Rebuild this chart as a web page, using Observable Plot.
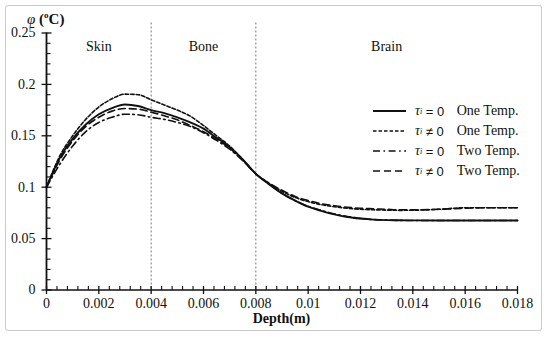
<!DOCTYPE html>
<html><head><meta charset="utf-8">
<script src="https://cdn.jsdelivr.net/npm/d3@7"></script>
<script src="https://cdn.jsdelivr.net/npm/@observablehq/plot@0.6"></script>
<style>
body{margin:0;background:#fff;}
#wrap{position:relative;width:550px;height:341px;font-family:"Liberation Serif","Times New Roman",serif;color:#111;overflow:hidden;}
#frame{position:absolute;left:5px;top:5px;width:537px;height:326px;border:1px solid #c9c9c9;border-radius:3px;box-sizing:border-box;}
#chart{position:absolute;left:0;top:0;}
#ylab{position:absolute;left:27px;top:10px;font-size:15px;white-space:nowrap;}
#ylab .phi{font-style:italic;}
#ylab .u{font-weight:bold;}
#ylab sup{font-size:9px;vertical-align:6px;}
#xlab{position:absolute;left:0;width:563px;top:311px;text-align:center;font-weight:bold;font-size:14px;}
#legend{position:absolute;left:372px;top:101px;font-size:14px;}
#legend .row{height:20px;display:flex;align-items:center;white-space:nowrap;}
#legend svg{margin-right:9px;}
#legend .tau{font-style:italic;}
#legend .eq{font-family:"Liberation Sans",Arial,sans-serif;font-size:13px;display:inline-block;width:31px;}
#legend sub{font-size:8px;font-style:italic;}
</style></head>
<body>
<div id="wrap">
  <div id="frame"></div>
  <div id="chart"></div>
  <div id="ylab"><span class="phi">φ</span> <span class="u">(<sup>o</sup>C)</span></div>
  <div id="xlab">Depth(m)</div>
  <div id="legend"></div>
</div>
<script>
// ---- data ----
const depth = [0, 0.0005, 0.001, 0.0015, 0.002, 0.0025, 0.003, 0.0035, 0.004, 0.0045, 0.005, 0.0055, 0.006, 0.0065, 0.007, 0.0075, 0.008, 0.0085, 0.009, 0.0095, 0.01, 0.0105, 0.011, 0.0115, 0.012, 0.0125, 0.013, 0.0135, 0.014, 0.015, 0.016, 0.017, 0.018];
const oneTempTau0 =    [0.100, 0.128, 0.147, 0.161, 0.171, 0.177, 0.1805, 0.179, 0.175, 0.172, 0.168, 0.163, 0.157, 0.148, 0.139, 0.127, 0.113, 0.103, 0.094, 0.087, 0.081, 0.077, 0.0735, 0.071, 0.0695, 0.0685, 0.068, 0.0678, 0.0677, 0.0676, 0.0676, 0.0676, 0.0676];
const oneTempTauNZ =   [0.100, 0.130, 0.150, 0.166, 0.178, 0.186, 0.1905, 0.190, 0.185, 0.180, 0.175, 0.169, 0.160, 0.150, 0.140, 0.127, 0.113, 0.104, 0.096, 0.090, 0.086, 0.083, 0.081, 0.0795, 0.0785, 0.078, 0.0777, 0.0775, 0.0776, 0.0785, 0.080, 0.080, 0.080];
const twoTempTau0 =    [0.100, 0.122, 0.140, 0.154, 0.163, 0.168, 0.171, 0.1705, 0.168, 0.166, 0.163, 0.159, 0.153, 0.1455, 0.137, 0.126, 0.113, 0.103, 0.094, 0.087, 0.0815, 0.0775, 0.074, 0.0715, 0.0695, 0.0685, 0.068, 0.0677, 0.0676, 0.0676, 0.0676, 0.0676, 0.0676];
const twoTempTauNZ =   [0.100, 0.126, 0.145, 0.159, 0.168, 0.174, 0.1765, 0.176, 0.173, 0.1695, 0.1655, 0.160, 0.154, 0.1465, 0.138, 0.126, 0.113, 0.104, 0.097, 0.091, 0.087, 0.084, 0.082, 0.0805, 0.0795, 0.079, 0.0785, 0.078, 0.078, 0.0785, 0.0795, 0.080, 0.080];

const seriesNames = ["One Temp.", "One Temp.", "Two Temp.", "Two Temp."];
const seriesTau = ["= 0", "≠ 0", "= 0", "≠ 0"];
const seriesValues = [oneTempTau0, oneTempTauNZ, twoTempTau0, twoTempTauNZ];

const regionNames = ["Skin", "Bone", "Brain"];
const regionBounds = [0, 0.004, 0.008, 0.018];

const xTicks = [0, 0.002, 0.004, 0.006, 0.008, 0.01, 0.012, 0.014, 0.016, 0.018];
const xTickLabels = ["0", "0.002", "0.004", "0.006", "0.008", "0.01", "0.012", "0.014", "0.016", "0.018"];
const yTicks = [0, 0.05, 0.1, 0.15, 0.2, 0.25];
const yTickLabels = ["0", "0.05", "0.1", "0.15", "0.2", "0.25"];

// ---- styles ----
const seriesStyles = [
  {strokeWidth: 1.9, dash: null},
  {strokeWidth: 1.6, dash: "3.5,2"},
  {strokeWidth: 1.6, dash: "7,3.5,1.6,3.5"},
  {strokeWidth: 1.6, dash: "7,4"}
];

const seriesData = seriesValues.map((vals, k) => depth.map((x, i) => ({x, y: vals[i], k})));
const regions = regionNames.map((name, i) => ({name, mid: (regionBounds[i] + regionBounds[i + 1]) / 2}));
const boundaries = regionBounds.slice(1, -1);

const xMinor = d3.range(0, 0.01801, 0.0004).filter(v => !xTicks.some(t => Math.abs(t - v) < 1e-9));
const yMinor = d3.range(0, 0.2501, 0.01).filter(v => !yTicks.some(t => Math.abs(t - v) < 1e-9));

const xLab = new Map(xTicks.map((t, i) => [t, xTickLabels[i]]));
const yLab = new Map(yTicks.map((t, i) => [t, yTickLabels[i]]));

const symX = {draw(c){ c.moveTo(0, -4); c.lineTo(0, 4); }};
const symXMinor = {draw(c){ c.moveTo(0, 0); c.lineTo(0, -4); }};
const symY = {draw(c){ c.moveTo(-5, 0); c.lineTo(5, 0); }};
const symYMinor = {draw(c){ c.moveTo(0, 0); c.lineTo(4, 0); }};

const lineMarks = seriesData.map((d, k) => Plot.line(d, {
  x: "x", y: "y", curve: "monotone-x", stroke: "#111",
  strokeWidth: seriesStyles[k].strokeWidth,
  strokeDasharray: seriesStyles[k].dash
}));

const chart = Plot.plot({
  width: 550, height: 341,
  marginLeft: 46, marginRight: 33, marginTop: 32.5, marginBottom: 51.5,
  x: {domain: [0, 0.018]},
  y: {domain: [0, 0.25]},
  style: {fontFamily: "'Liberation Serif','Times New Roman',serif", fontSize: "14px", color: "#111", background: "transparent", overflow: "visible"},
  marks: [
    Plot.ruleX(boundaries, {stroke: "#777", strokeDasharray: "2,2", strokeWidth: 1, insetTop: -10}),
    Plot.text(regions, {x: "mid", frameAnchor: "top", dy: 8, text: "name", fontSize: 14, fill: "#111"}),
    ...lineMarks,
    Plot.ruleY([0], {stroke: "#111", strokeWidth: 1.5}),
    Plot.ruleX([0], {stroke: "#111", strokeWidth: 1.8}),
    Plot.dot(xTicks, {x: d => d, y: 0, symbol: symX, stroke: "#111", fill: "none", strokeWidth: 1.3}),
    Plot.dot(xMinor, {x: d => d, y: 0, symbol: symXMinor, stroke: "#111", fill: "none", strokeWidth: 1.1}),
    Plot.dot(yTicks, {x: 0, y: d => d, symbol: symY, stroke: "#111", fill: "none", strokeWidth: 1.3}),
    Plot.dot(yMinor, {x: 0, y: d => d, symbol: symYMinor, stroke: "#111", fill: "none", strokeWidth: 1.1}),
    Plot.axisX(xTicks, {tickSize: 0, tickPadding: 8, tickFormat: d => xLab.get(d), label: null, fontSize: 14}),
    Plot.axisY(yTicks, {tickSize: 0, tickPadding: 11, tickFormat: d => yLab.get(d), label: null, fontSize: 14})
  ]
});
document.getElementById("chart").appendChild(chart);

// ---- legend ----
const legend = document.getElementById("legend");
seriesNames.forEach((name, k) => {
  const row = document.createElement("div");
  row.className = "row";
  const st = seriesStyles[k];
  row.innerHTML = `<svg width="34" height="10"><line x1="1" x2="34" y1="5" y2="5" stroke="#111" stroke-width="${st.strokeWidth}" ${st.dash ? `stroke-dasharray="${st.dash}"` : ""}/></svg>` +
    `<span class="tau">τ</span><sub>i</sub>&nbsp;<span class="eq">${seriesTau[k]}</span><span>${name}</span>`;
  legend.appendChild(row);
});
</script>
</body></html>
